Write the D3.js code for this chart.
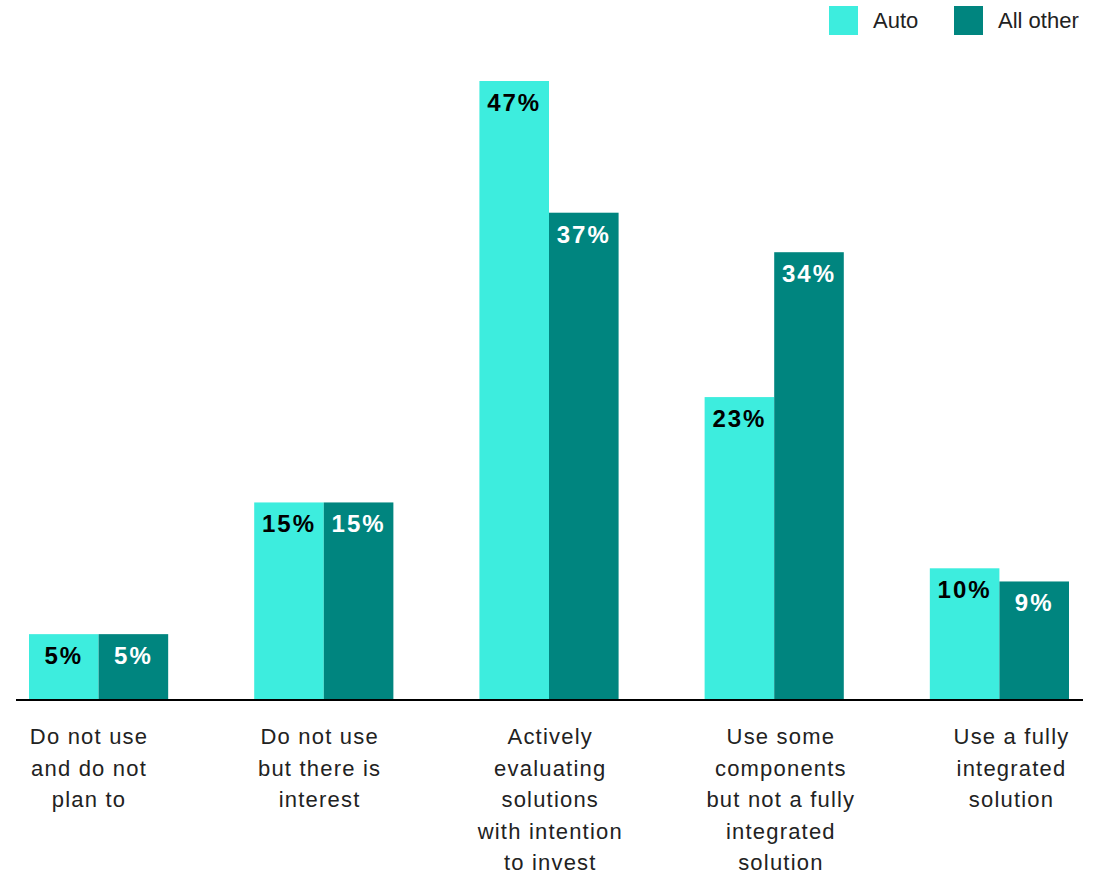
<!DOCTYPE html>
<html>
<head>
<meta charset="utf-8">
<script src="https://cdn.jsdelivr.net/npm/d3@7"></script>
<style>
  html, body { margin: 0; padding: 0; background: #fff; }
  svg { display: block; font-family: "Liberation Sans", Arial, Helvetica, sans-serif; }
</style>
</head>
<body>
<svg id="chart" width="1099" height="877"></svg>
<script>
// Categories (each entry is the list of wrapped label lines)
const categories = [
  ["Do not use", "and do not", "plan to"],
  ["Do not use", "but there is", "interest"],
  ["Actively", "evaluating", "solutions", "with intention", "to invest"],
  ["Use some", "components", "but not a fully", "integrated", "solution"],
  ["Use a fully", "integrated", "solution"]
];
const seriesNames = ["Auto", "All other"];
const autoValues = [5, 15, 47, 23, 10];
const allOtherValues = [5, 15, 37, 34, 9];
const seriesColors = ["#3DEDDE", "#00857F"];
const labelColors = ["#000000", "#ffffff"];

const baseY = 700;
const svg = d3.select("#chart");

const keys = categories.map((_, i) => i);
const x0 = d3.scaleBand().domain(keys).range([29, 1069]).paddingInner(0.382).paddingOuter(0);
const x1 = d3.scaleBand().domain([0, 1]).range([0, x0.bandwidth()]).padding(0);
// category captions sit on their own evenly spaced positions
const xLabel = d3.scalePoint().domain(keys).range([89, 1011.5]);
const y = d3.scaleLinear().domain([0, 47]).range([baseY, 81]);

const rows = keys.map(i => [autoValues[i], allOtherValues[i]]);

const groups = svg.append("g").selectAll("g")
  .data(rows)
  .join("g")
  .attr("transform", (d, i) => `translate(${x0(i)},0)`);

groups.selectAll("rect")
  .data(d => d.map((v, s) => ({ v, s })))
  .join("rect")
  .attr("x", d => x1(d.s))
  .attr("y", d => y(d.v))
  .attr("width", x1.bandwidth())
  .attr("height", d => baseY - y(d.v))
  .attr("fill", d => seriesColors[d.s]);

groups.selectAll("text.val")
  .data(d => d.map((v, s) => ({ v, s })))
  .join("text")
  .attr("class", "val")
  .attr("x", d => x1(d.s) + x1.bandwidth() / 2)
  .attr("y", d => y(d.v) + 30)
  .attr("text-anchor", "middle")
  .attr("font-size", 24)
  .attr("font-weight", "bold")
  .attr("letter-spacing", 2)
  .attr("fill", d => labelColors[d.s])
  .text(d => d.v + "%");

// baseline
svg.append("line")
  .attr("x1", 16).attr("x2", 1083)
  .attr("y1", baseY).attr("y2", baseY)
  .attr("stroke", "#000").attr("stroke-width", 2);

// category labels
const cat = svg.append("g").selectAll("text")
  .data(categories)
  .join("text")
  .attr("text-anchor", "middle")
  .attr("font-size", 22)
  .attr("letter-spacing", 1.2)
  .attr("fill", "#222")
  .attr("transform", (d, i) => `translate(${xLabel(i)},0)`);
cat.selectAll("tspan")
  .data(d => d)
  .join("tspan")
  .attr("x", 0)
  .attr("y", (d, j) => 744 + j * 31.5)
  .text(d => d);

// legend
const legendX = [829, 954];
const leg = svg.append("g").selectAll("g")
  .data(seriesNames)
  .join("g")
  .attr("transform", (d, i) => `translate(${legendX[i]},6)`);
leg.append("rect").attr("width", 29).attr("height", 29).attr("fill", (d, i) => seriesColors[i]);
leg.append("text")
  .attr("x", 44).attr("y", 22)
  .attr("font-size", 22)
  .attr("fill", "#222")
  .text(d => d);
</script>
</body>
</html>
